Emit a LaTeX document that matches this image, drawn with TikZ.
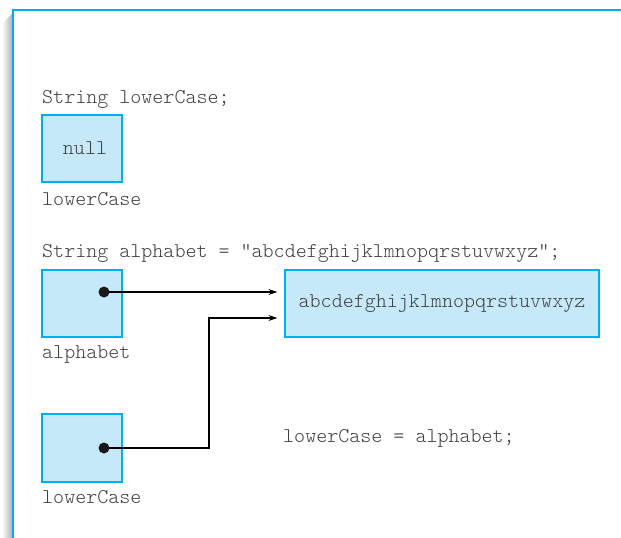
\documentclass[tikz,border=0pt]{standalone}
\usepackage{fontspec}
\setmonofont{Latin Modern Mono Light}
\usetikzlibrary{arrows.meta}
\definecolor{framecyan}{HTML}{00AEEF}
\definecolor{cellfill}{HTML}{C6E9F9}
\definecolor{codetext}{HTML}{404040}
\tikzset{
  code/.style={font=\ttfamily\fontsize{21}{25}\selectfont, text=codetext, inner sep=0pt},
  cell/.style={draw=framecyan, fill=cellfill, line width=1.2pt, minimum width=80pt,
    minimum height=67pt, inner sep=0pt, font=\ttfamily\fontsize{21}{25}\selectfont, text=codetext},
  ref/.style={line width=1.1pt, -{Stealth[length=9pt,width=6pt]}, shorten >=7pt},
  refdot/.style={fill=black!90}
}
\begin{document}
\begin{tikzpicture}[x=1pt,y=-1pt]
  \useasboundingbox (0,0) rectangle (621,538);
  % drop shadow on the left edge of the panel
  \shade[left color=white, right color=black!32] (2,24) -- (12.5,13) -- (12.5,538) -- (2,538) -- cycle;
  % panel frame
  \draw[framecyan, line width=2pt] (13,538) -- (13,10) -- (621,10);

  % String lowerCase;
  \node[code, anchor=base west] (decl1) at (42,103) {String lowerCase;};
  \node[cell] (nullbox) at (82,148.5) {\hspace{6pt}null};
  \node[code, anchor=west] (name1) at (42,199) {lowerCase};

  % String alphabet = "...";
  \node[code, anchor=base west] (decl2) at (42,257) {String alphabet = "abcdefghijklmnopqrstuvwxyz";};
  \node[cell] (abox) at (82,303.5) {};
  \node[code, anchor=west] (name2) at (42,354) {alphabet};
  \node[cell, minimum width=314pt] (strbox) at (442,303.5) {abcdefghijklmnopqrstuvwxyz};

  % lowerCase = alphabet;
  \node[cell, minimum height=68pt] (lbox) at (82,448) {};
  \node[code, anchor=west] (name3) at (42,497) {lowerCase};
  \node[code, anchor=west] (assign) at (283,438) {lowerCase = alphabet;};

  % references
  \coordinate (d1) at (104,292);
  \coordinate (d2) at (104,448);
  \coordinate (bend) at (209,318);
  \draw[ref] (d1) -- (d1 -| strbox.west);
  \draw[ref] (d2) -| (bend) -- (bend -| strbox.west);
  \fill[refdot] (d1) circle (5.5pt);
  \fill[refdot] (d2) circle (5.5pt);
\end{tikzpicture}
\end{document}
